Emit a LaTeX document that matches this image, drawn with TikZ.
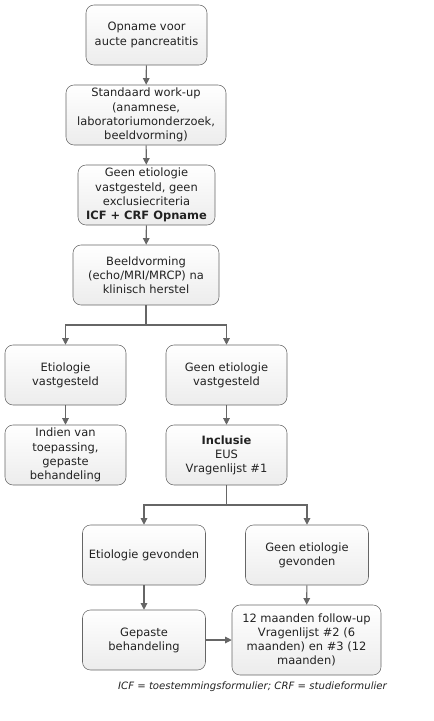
\documentclass[tikz,border=0pt]{standalone}
\usepackage{fontspec}
\setmainfont{DejaVu Sans}
\definecolor{fcline}{RGB}{102,102,102}
\definecolor{fcfill}{RGB}{236,236,236}
\definecolor{fctext}{RGB}{34,34,34}
\usetikzlibrary{arrows.meta,positioning}

\begin{document}
\begin{tikzpicture}[
    x=0.75pt, y=-0.75pt,
    fbox/.style={rectangle, draw=fcline, top color=white, bottom color=fcfill,
                 rounded corners=6pt, align=center, text=fctext,
                 font=\fontsize{8.6}{10.6}\selectfont,
                 minimum width=90.75pt, minimum height=45pt, inner sep=2pt},
    conn/.style={fcline, line width=0.8pt},
    >={Triangle[width=5pt,length=5pt]}
  ]
    \useasboundingbox (0,0) rectangle (434,721);

    % Main column
    \node[fbox] (opname) at (146.5,35) {Opname voor\\aucte pancreatitis};
    \node[fbox, minimum width=120pt] (workup) at (146,115)
      {Standaard work-up\\(anamnese,\\laboratoriumonderzoek,\\beeldvorming)};
    \node[fbox, minimum width=102.75pt] (geenexcl) at (146.5,195)
      {Geen etiologie\\vastgesteld, geen\\exclusiecriteria\\\textbf{ICF + CRF Opname}};
    \node[fbox, minimum width=109.5pt] (beeld) at (146,275)
      {Beeldvorming\\(echo/MRI/MRCP) na\\klinisch herstel};

    % First split
    \node[fbox] (etvast) at (65.5,375) {Etiologie\\vastgesteld};
    \node[fbox] (geenvast) at (226.5,375) {Geen etiologie\\vastgesteld};
    \node[fbox] (indien) at (65.5,455) {Indien van\\toepassing,\\gepaste\\behandeling};
    \node[fbox] (inclusie) at (226.5,455) {\textbf{Inclusie}\\EUS\\Vragenlijst \#1};

    % Second split
    \node[fbox, minimum width=92.25pt] (etgev) at (144,555) {Etiologie gevonden};
    \node[fbox, minimum width=92.25pt] (geengev) at (307,555) {Geen etiologie\\gevonden};
    \node[fbox, minimum width=92.25pt] (gepast) at (144,640) {Gepaste\\behandeling};
    \node[fbox, minimum width=111.75pt, minimum height=52.5pt] (followup) at (306.5,640)
      {12 maanden follow-up\\Vragenlijst \#2 (6\\maanden) en \#3 (12\\maanden)};

    \coordinate (split1) at (146,325);
    \coordinate (split2) at (226.5,505);

    % Connectors
    \draw[conn, ->] (opname) -- (workup);
    \draw[conn, ->] (workup) -- (geenexcl);
    \draw[conn, ->] (geenexcl) -- (beeld);
    \draw[conn] (beeld) -- (split1);
    \draw[conn, ->] (split1) -| (etvast);
    \draw[conn, ->] (split1) -| (geenvast);
    \draw[conn, ->] (etvast) -- (indien);
    \draw[conn, ->] (geenvast) -- (inclusie);
    \draw[conn] (inclusie) -- (split2);
    \draw[conn, ->] (split2) -| (etgev);
    \draw[conn, ->] (split2) -| (geengev);
    \draw[conn, ->] (etgev) -- (gepast);
    \draw[conn, ->] (geengev) -- (followup);
    \draw[conn, ->] (gepast) -- (followup);

    % Footnote
    \node[font=\fontsize{7.6}{9}\selectfont\itshape, text=fctext] (legend) at (252.5,687)
      {ICF = toestemmingsformulier; CRF = studieformulier};
  \end{tikzpicture}
\end{document}
